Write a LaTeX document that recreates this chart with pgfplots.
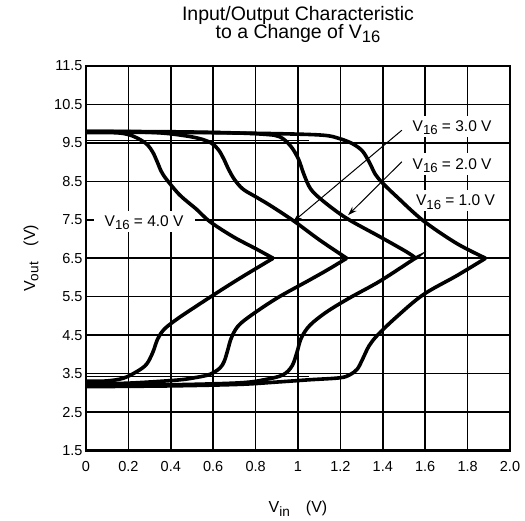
\documentclass[border=0pt]{standalone}
\usepackage{fontspec}
\setmainfont{Liberation Sans}
\usepackage{pgfplots}
\pgfplotsset{compat=1.18}
\usetikzlibrary{arrows.meta}

\newcommand\sub[1]{\raisebox{-0.2em}{\scalebox{0.85}{#1}}}
\tikzset{lbl/.style={fill=white, anchor=base, font=\fontsize{15.5}{17}\selectfont,
    inner xsep=4pt, inner ysep=2pt, text height=14pt, text depth=3.5pt},
  crv/.style={black, solid, mark=none, line width=3.6pt, smooth, tension=0.55}}

\begin{document}
\begin{tikzpicture}
\useasboundingbox (-86pt,-70.5pt) rectangle (439pt,450.5pt);
\begin{axis}[
  at={(0,0)}, anchor=south west,
  scale only axis, width=424pt, height=384.5pt,
  xmin=0, xmax=2, ymin=1.5, ymax=11.5,
  xtick={0,0.2,0.4,0.6,0.8,1,1.2,1.4,1.6,1.8,2},
  xticklabels={0,0.2,0.4,0.6,0.8,1,1.2,1.4,1.6,1.8,2.0},
  ytick={1.5,2.5,3.5,4.5,5.5,6.5,7.5,8.5,9.5,10.5,11.5},
  yticklabels={1.5,2.5,3.5,4.5,5.5,6.5,7.5,8.5,9.5,10.5,11.5},
  grid=major,
  major grid style={black, line width=1.5pt},
  axis line style={line width=2.6pt},
  tick style={draw=none},
  /pgf/number format/assume math mode=true,
  ticklabel style={font=\fontsize{14.5}{16}\selectfont},
  xticklabel style={yshift=-7pt},
  title={Input/Output Characteristic\\[-1pt]to a Change of V\sub{16}},
  title style={at={(0.5,1)}, anchor=south, yshift=17pt, inner sep=0pt,
    align=center, font=\fontsize{19.5}{17}\selectfont},
  xlabel={V\sub{in}\hspace{16pt}(V)},
  xlabel style={at={(axis description cs:0.5,-0.1625)}, anchor=base,
    font=\fontsize{16}{18}\selectfont},
  ylabel={V\sub{out}\hspace{16pt}(V)},
  ylabel style={at={(axis description cs:-0.12,0.5)}, anchor=base,
    font=\fontsize{16}{18}\selectfont},
]

% labels and arrows first, so the curves lie on top
\node[lbl, inner xsep=11pt] at (axis cs:0.274,7.32) {V\sub{16} = 4.0 V};
\node[lbl] at (axis cs:1.727,9.79) {V\sub{16} = 3.0 V};
\node[lbl] at (axis cs:1.727,8.82) {V\sub{16} = 2.0 V};
\node[lbl] at (axis cs:1.743,7.86) {V\sub{16} = 1.0 V};
\draw[line width=1pt, -{Stealth[length=9pt,width=6pt]}] (axis cs:1.49,9.83) -- (axis cs:0.977,7.45);
\draw[line width=1pt, -{Stealth[length=9pt,width=6pt]}] (axis cs:1.49,9.01) -- (axis cs:1.236,7.62);

% thin limit lines
\addplot[black, line width=0.9pt, mark=none] coordinates {(0,9.56) (1.05,9.56)};
\addplot[black, line width=0.9pt, mark=none] coordinates {(0,3.42) (1.05,3.42)};

% V16 = 4.0 V
\addplot[crv] coordinates {(0,9.77) (0.10,9.77) (0.17,9.75) (0.22,9.68) (0.26,9.57)
  (0.29,9.45) (0.315,9.26) (0.335,9.02) (0.355,8.76) (0.38,8.55)
  (0.443,8.14) (0.52,7.78) (0.585,7.45) (0.694,7.06) (0.80,6.75) (0.883,6.50)};
\addplot[crv] coordinates {(0,3.30) (0.10,3.31) (0.176,3.38) (0.239,3.55) (0.285,3.74)
  (0.315,4.05) (0.338,4.40) (0.37,4.66) (0.43,4.92) (0.50,5.18) (0.60,5.54)
  (0.726,5.98) (0.883,6.50)};

% V16 = 3.0 V
\addplot[crv] coordinates {(0,9.80) (0.20,9.79) (0.35,9.76) (0.45,9.70) (0.53,9.62)
  (0.59,9.50) (0.625,9.32) (0.65,9.08) (0.672,8.82) (0.70,8.55) (0.74,8.30)
  (0.80,8.10) (0.867,7.88) (0.98,7.47) (1.103,6.97) (1.23,6.50)};
\addplot[crv] coordinates {(0,3.24) (0.192,3.25) (0.427,3.33) (0.52,3.40) (0.584,3.48)
  (0.631,3.64) (0.652,3.82) (0.668,4.10) (0.685,4.42) (0.715,4.72)
  (0.77,4.98) (0.90,5.46) (1.05,5.92) (1.14,6.20) (1.23,6.50)};

% V16 = 2.0 V
\addplot[crv] coordinates {(0,9.80) (0.40,9.79) (0.70,9.76) (0.85,9.72) (0.914,9.66)
  (0.965,9.42) (1.002,9.08) (1.028,8.68) (1.06,8.30) (1.118,7.99) (1.229,7.54)
  (1.386,7.06) (1.511,6.67) (1.556,6.50)};
\addplot[crv] coordinates {(0,3.20) (0.40,3.21) (0.726,3.26) (0.85,3.35) (0.93,3.47)
  (0.972,3.70) (0.995,4.05) (1.015,4.42) (1.055,4.75) (1.134,5.10) (1.244,5.47)
  (1.385,5.90) (1.542,6.46) (1.556,6.50)};

% V16 = 1.0 V
\addplot[crv] coordinates {(0,9.78) (0.50,9.77) (0.90,9.74) (1.118,9.70) (1.197,9.61)
  (1.26,9.47) (1.305,9.28) (1.338,8.98) (1.365,8.68) (1.40,8.45) (1.464,8.11)
  (1.59,7.48) (1.747,6.89) (1.885,6.50)};
\addplot[crv] coordinates {(0,3.16) (0.40,3.18) (0.726,3.22) (0.90,3.28) (1.056,3.34)
  (1.197,3.39) (1.245,3.47) (1.28,3.62) (1.305,3.88) (1.335,4.22) (1.375,4.50)
  (1.46,4.95) (1.59,5.55) (1.75,6.05) (1.885,6.50)};
\end{axis}
\end{tikzpicture}
\end{document}
